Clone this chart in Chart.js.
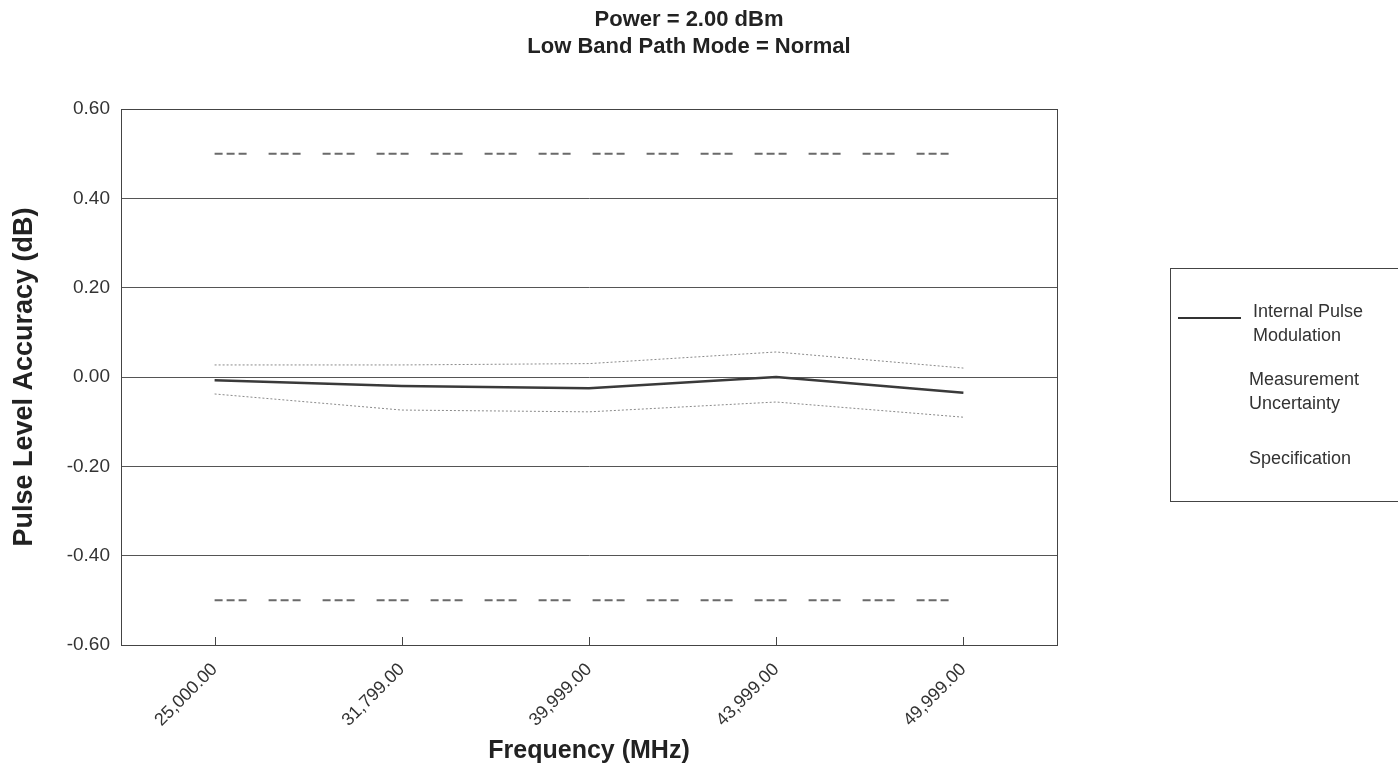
<!DOCTYPE html>
<html>
<head>
<meta charset="utf-8">
<script src="https://cdn.jsdelivr.net/npm/chart.js@4.4.1/dist/chart.umd.min.js"></script>
<style>
  body{margin:0;background:#fff;width:1398px;height:769px;overflow:hidden;position:relative;font-family:"Liberation Sans",Arial,sans-serif;}
  #wrap{position:absolute;left:0;top:0;width:1398px;height:769px;}
  .legend-box{position:absolute;left:1170px;top:268px;width:240px;height:234px;border:1px solid #444;box-sizing:border-box;color:#333;font-size:18px;line-height:24px;}
  .legend-item{position:absolute;left:82px;}
  .legend-line{position:absolute;left:7px;top:48px;width:63px;height:2px;background:#333;}
</style>
</head>
<body>
<div id="wrap"><canvas id="myChart" width="1398" height="769"></canvas></div>
<div class="legend-box">
  <div class="legend-line"></div>
  <div class="legend-item" style="top:30px;">Internal Pulse<br>Modulation</div>
  <div class="legend-item" style="left:78px;top:98px;">Measurement<br>Uncertainty</div>
  <div class="legend-item" style="left:78px;top:177px;">Specification</div>
</div>
<script>
// data
const frequencies= ["25,000.00","31,799.00","39,999.00","43,999.00","49,999.00"];
const pulseAccuracy= [-0.007, -0.02, -0.025, 0.0, -0.035];
const uncertaintyHigh= [0.027, 0.027, 0.03, 0.056, 0.02];
const uncertaintyLow= [-0.038, -0.074, -0.078, -0.056, -0.09];
const specHigh= [0.50, 0.50, 0.50, 0.50, 0.50];
const specLow= [-0.50, -0.50, -0.50, -0.50, -0.50];
const yTicks= [0.60, 0.40, 0.20, 0.00, -0.20, -0.40, -0.60];

// frame round the plot + inward tick marks on the x axis
const framePlugin= {
  id: 'frame',
  afterDraw(chart){
    const {ctx, chartArea}= chart;
    const xScale= chart.scales.x;
    ctx.save();
    ctx.strokeStyle= '#444';
    ctx.lineWidth= 1;
    ctx.strokeRect(chartArea.left+0.5, chartArea.top+0.5, chartArea.right-chartArea.left, chartArea.bottom-chartArea.top);
    frequencies.forEach((f, i)=>{
      const x= Math.round(xScale.getPixelForValue(i))+0.5;
      ctx.beginPath();
      ctx.moveTo(x, chartArea.bottom);
      ctx.lineTo(x, chartArea.bottom-8);
      ctx.stroke();
    });
    ctx.restore();
  }
};

Chart.defaults.font.family= '"Liberation Sans", Arial, sans-serif';
Chart.defaults.color= '#222';

const specStyle= {borderColor:'#6a6a6a', borderWidth:2, borderDash:[8,4,8,4,8,22], pointRadius:0, tension:0, fill:false};
const uncStyle= {borderColor:'#8a8a8a', borderWidth:1, borderDash:[2,2], pointRadius:0, tension:0, fill:false};

new Chart(document.getElementById('myChart'), {
  type: 'line',
  data: {
    labels: frequencies,
    datasets: [
      {label:'Internal Pulse Modulation', data:pulseAccuracy, borderColor:'#3a3a3a', borderWidth:2.5, pointRadius:0, tension:0, fill:false},
      Object.assign({label:'Measurement Uncertainty', data:uncertaintyHigh}, uncStyle),
      Object.assign({label:'Measurement Uncertainty low', data:uncertaintyLow}, uncStyle),
      Object.assign({label:'Specification', data:specHigh}, specStyle),
      Object.assign({label:'Specification low', data:specLow}, specStyle),
    ],
  },
  options: {
    responsive: false,
    animation: false,
    layout: {padding: {left:0, right:20, top:0, bottom:0}},
    plugins: {
      legend: {display:false},
      tooltip: {enabled:false},
      title: {
        display: true,
        text: ['Power = 2.00 dBm', 'Low Band Path Mode = Normal'],
        font: {size:22, weight:'bold', lineHeight:1.25},
        color: '#222',
        padding: {top:6, bottom:48},
      },
    },
    scales: {
      x: {
        offset: true,
        grid: {display:false, drawTicks:false},
        border: {display:true, color:'#444'},
        ticks: {maxRotation:45, minRotation:45, font:{size:18}, color:'#333', padding:14},
        title: {display:true, text:'Frequency (MHz)', font:{size:25, weight:'bold'}, color:'#222', padding:{top:0, bottom:3}},
        afterFit: (s)=>{ s.height= 124; },
      },
      y: {
        min: -0.6,
        max: 0.6,
        afterBuildTicks: (s)=>{ s.ticks= yTicks.map(v=>({value:v})); },
        grid: {color:'#555', drawTicks:false},
        border: {display:true, color:'#444'},
        ticks: {font:{size:19}, color:'#333', padding:11, callback:(v)=>v.toFixed(2)},
        title: {display:true, text:'Pulse Level Accuracy (dB)', font:{size:27, weight:'bold'}, color:'#222', padding:{top:8, bottom:0}},
        afterFit: (s)=>{ s.width= 121; },
      },
      // empty axis on the right keeps room for the legend box
      yRight: {
        position: 'right',
        display: true,
        grid: {display:false, drawTicks:false},
        border: {display:false},
        ticks: {display:false},
        afterFit: (s)=>{ s.width= 321; },
      },
    },
  },
  plugins: [framePlugin],
});
</script>
</body>
</html>
